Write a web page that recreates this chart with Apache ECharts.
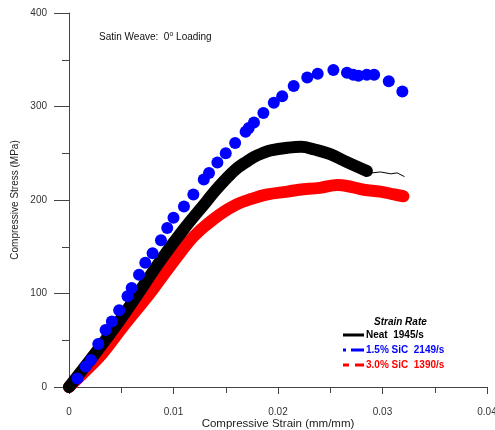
<!DOCTYPE html>
<html>
<head>
<meta charset="utf-8">
<script src="https://cdn.jsdelivr.net/npm/echarts@6/dist/echarts.min.js"></script>
<style>
  html, body { margin: 0; padding: 0; background: #fff; }
  #chart { width: 495px; height: 430px; }
</style>
</head>
<body>
<div id="chart"></div>
<script>
// strain (mm/mm), stress (MPa)
const neat = [
  [0, 0], [0.0021, 30], [0.0042, 61], [0.0062, 93], [0.0088, 136], [0.011, 169],
  [0.0132, 199], [0.014, 210], [0.0148, 220], [0.0155, 228], [0.0162, 235], [0.017, 241],
  [0.0177, 246], [0.0185, 250], [0.0193, 253], [0.021, 256], [0.0222, 257], [0.0235, 254],
  [0.025, 249], [0.0265, 241], [0.0285, 231]
];
const neatTail = [
  [0.0285, 231], [0.029, 229], [0.0298, 230], [0.0308, 228], [0.0314, 229], [0.0321, 225]
];
const sic15 = [
  [0.0008, 9], [0.0016, 22], [0.0021, 29], [0.0028, 46], [0.0035, 61], [0.0041, 70],
  [0.0048, 82], [0.0056, 97], [0.006, 106], [0.0067, 120], [0.0073, 133], [0.008, 143],
  [0.0088, 157], [0.0094, 170], [0.01, 181], [0.011, 193], [0.0119, 206], [0.0129, 222],
  [0.0134, 229], [0.0142, 240], [0.015, 250], [0.0159, 261], [0.0169, 273], [0.0172, 277],
  [0.0177, 283], [0.0186, 293], [0.0196, 304], [0.0204, 311], [0.0215, 322], [0.0228, 331],
  [0.0238, 335], [0.0253, 339], [0.0266, 336], [0.0272, 334], [0.0277, 333], [0.0285, 334],
  [0.0292, 334], [0.0306, 327], [0.0319, 316]
];
const sic30 = [
  [0, 0], [0.0022, 24], [0.0032, 36], [0.0052, 65], [0.0076, 98], [0.0088, 116],
  [0.0104, 140], [0.0116, 157], [0.0123, 165], [0.013, 172], [0.0145, 185], [0.016, 195],
  [0.0174, 201], [0.019, 206], [0.0209, 209], [0.022, 211], [0.024, 213], [0.0257, 216],
  [0.0266, 215], [0.0282, 211], [0.0298, 209], [0.0311, 206], [0.032, 204]
];
const names = ['Neat  1945/s', '1.5% SiC  2149/s', '3.0% SiC  1390/s'];

const chart = echarts.init(document.getElementById('chart'));
const font = 'Liberation Sans, Arial, sans-serif';

chart.setOption({
  animation: false,
  textStyle: { fontFamily: font },
  title: [
    {
      text: 'Satin Weave:  0{sup|o} Loading',
      left: 94, top: 26,
      textStyle: {
        fontSize: 10, fontWeight: 'normal', color: '#111',
        rich: { sup: { fontSize: 7, verticalAlign: 'top', padding: [0, 0, 6, 0], color: '#111' } }
      }
    },
    {
      text: 'Strain Rate',
      left: 369, top: 312,
      textStyle: { fontSize: 10, fontWeight: 'bold', fontStyle: 'italic', color: '#000' }
    }
  ],
  legend: {
    orient: 'vertical',
    left: 338, top: 325,
    itemWidth: 21, itemHeight: 3, itemGap: 5,
    textStyle: { fontSize: 10, fontWeight: 'bold', padding: [0, 0, 0, -3] },
    data: [
      { name: names[0], icon: 'rect', textStyle: { color: '#000' } },
      { name: names[1], icon: 'path://M0,0H3V3H0Z M8,0H21V3H8Z', textStyle: { color: '#0000ff' } },
      { name: names[2], icon: 'path://M0,0H6V3H0Z M12,0H21V3H12Z', textStyle: { color: '#ff0000' } }
    ],
    selectedMode: false
  },
  grid: { left: 69, right: 8, top: 13, bottom: 43, outerBoundsMode: 'none' },
  xAxis: {
    type: 'value', min: 0, max: 0.04, interval: 0.01,
    name: 'Compressive Strain (mm/mm)', nameLocation: 'middle', nameGap: 31,
    nameMoveOverlap: false,
    nameTextStyle: { fontSize: 11.5, color: '#222' },
    axisLine: { lineStyle: { color: '#444' } },
    axisTick: { length: 7, lineStyle: { color: '#444' } },
    minorTick: { show: true, splitNumber: 2, length: 6, lineStyle: { color: '#444' } },
    axisLabel: { fontSize: 10, color: '#333', margin: 20 },
    splitLine: { show: false }
  },
  yAxis: {
    type: 'value', min: 0, max: 400, interval: 100,
    name: 'Compressive Stress (MPa)', nameLocation: 'middle', nameGap: 49,
    nameMoveOverlap: false,
    nameTextStyle: { fontSize: 10, color: '#222' },
    axisLine: { show: true, lineStyle: { color: '#444' } },
    axisTick: { show: true, length: 15, lineStyle: { color: '#444' } },
    minorTick: { show: true, splitNumber: 2, length: 7, lineStyle: { color: '#444' } },
    axisLabel: { fontSize: 10, color: '#333', margin: 22 },
    splitLine: { show: false }
  },
  series: [
    {
      name: names[2], type: 'line', data: sic30, smooth: 0.4, showSymbol: false, z: 2,
      itemStyle: { color: '#ff0000' },
      lineStyle: { color: '#ff0000', width: 12, cap: 'round', join: 'round' }
    },
    {
      name: names[0], type: 'line', data: neat, smooth: 0.4, showSymbol: false, z: 3,
      itemStyle: { color: '#000' },
      lineStyle: { color: '#000', width: 12, cap: 'round', join: 'round' }
    },
    {
      name: 'tail', type: 'line', data: neatTail, showSymbol: false, z: 3,
      lineStyle: { color: '#000', width: 1 }
    },
    {
      name: names[1], type: 'scatter', data: sic15, symbolSize: 12, z: 4,
      itemStyle: { color: '#0000ff', opacity: 1 }
    }
  ]
});
</script>
</body>
</html>
